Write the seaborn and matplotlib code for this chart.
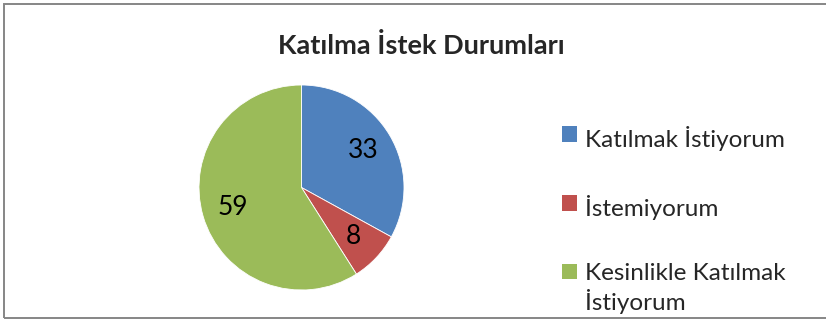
import matplotlib
matplotlib.use("Agg")
import matplotlib.pyplot as plt
from matplotlib.patches import Patch, Rectangle
import seaborn as sns

categories = ["Katılmak İstiyorum", "İstemiyorum", "Kesinlikle Katılmak\nİstiyorum"]
values = [33, 8, 59]
colors = ["#4F81BD", "#C0504D", "#9BBB59"]
title = "Katılma İstek Durumları"

sns.set_theme(style="white")
plt.rcParams["font.family"] = ["Lato", "DejaVu Sans"]

W, H = 826, 320
fig = plt.figure(figsize=(W / 100, H / 100), dpi=100)

# outer chart frame
fig.patches.append(Rectangle((4 / W, 2 / H), 1.2, (H - 6) / H, transform=fig.transFigure,
                             fill=False, edgecolor="#868686", linewidth=1.4))

cx, cy, r = 301.5, 187.5, 102.5
ax = fig.add_axes([(cx - r) / W, (H - cy - r) / H, 2 * r / W, 2 * r / H])
wedges, _, autotexts = ax.pie(
    values, colors=colors, startangle=90, counterclock=False,
    autopct=lambda p: f"{p * sum(values) / 100:.0f}", pctdistance=0.7,
    wedgeprops=dict(linewidth=0.6, edgecolor="white"),
    textprops=dict(fontsize=19, color="black"),
)
ax.set_xlim(-1, 1)
ax.set_ylim(-1, 1)
ax.set_aspect("equal")
ax.axis("off")

fig.text(421 / W, 1 - 46 / H, title, ha="center", va="center",
         fontsize=19.5, fontweight="bold")

fs = 17.5
handles = [Patch(facecolor=c, edgecolor="none") for c in colors]
leg = fig.legend(handles, categories, loc="upper left", bbox_to_anchor=(562 / W, 1 - 126 / H),
                 frameon=False, fontsize=fs, handlelength=0.62, handleheight=0.62,
                 handletextpad=0.33, labelspacing=1.8, borderpad=0, borderaxespad=0)
# keep each swatch level with the first line of its label
for column in leg._legend_handle_box.get_children():
    for row in column.get_children():
        row.align = "top"

fig.savefig("out.png", dpi=100, facecolor="white")
